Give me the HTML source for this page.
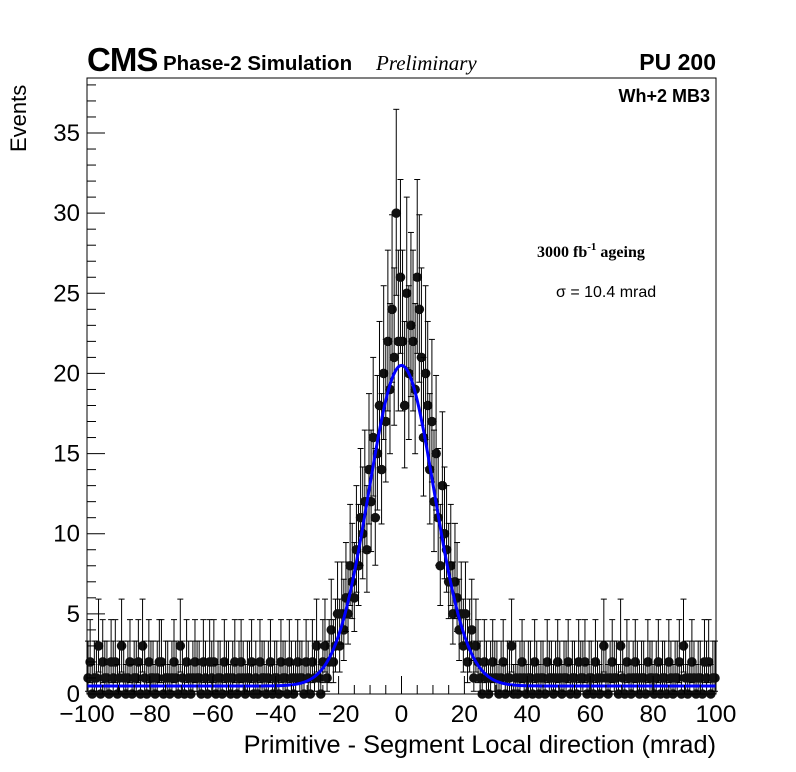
<!DOCTYPE html>
<html><head><meta charset="utf-8"><style>
html,body{margin:0;padding:0;background:#fff;}
svg{display:block;}
</style></head><body>
<svg id="chart" width="796" height="772" viewBox="0 0 796 772" xmlns="http://www.w3.org/2000/svg">
<rect x="0" y="0" width="796" height="772" fill="#fff"/>
<g id="marks"></g>
<path id="fit" fill="none" stroke="#0000ff" stroke-width="3"/>
<rect x="87" y="78" width="629" height="616" fill="none" stroke="#000" stroke-width="1"/>
<g id="axes"></g>
<text x="87" y="71" font-family="Liberation Sans, sans-serif" font-weight="bold" font-size="33" letter-spacing="-1">CMS</text>
<text x="163" y="70" font-family="Liberation Sans, sans-serif" font-weight="bold" font-size="20.5">Phase-2 Simulation</text>
<text x="376" y="70" font-family="Liberation Serif, serif" font-style="italic" font-size="21">Preliminary</text>
<text x="716" y="70" text-anchor="end" font-family="Liberation Sans, sans-serif" font-weight="bold" font-size="23">PU 200</text>
<text x="710" y="102" text-anchor="end" font-family="Liberation Sans, sans-serif" font-weight="bold" font-size="18">Wh+2 MB3</text>
<text x="537" y="257" font-family="Liberation Serif, serif" font-weight="bold" font-size="16">3000 fb<tspan dy="-7" font-size="11">-1</tspan><tspan dy="7"> ageing</tspan></text>
<text x="556" y="297" font-family="Liberation Sans, sans-serif" font-size="16">σ = 10.4 mrad</text>
<text x="716" y="753" text-anchor="end" font-family="Liberation Sans, sans-serif" font-size="25.3">Primitive - Segment Local direction (mrad)</text>
<text transform="translate(26,152) rotate(-90)" font-family="Liberation Sans, sans-serif" font-size="22">Events</text>
</svg>
<script>
const tailLeft = [1,2,0,1,1,3,0,2,1,1,0,2,1,2,0,1,3,1,0,1,2,0,1,1,2,0,3,1,0,2,
1,1,0,1,2,2,0,1,1,0,1,2,1,0,3,1,0,2,1,0,1,2,1,1,0,2,1,0,2,1,
2,0,1,1,0,2,1,1,0,1,2,0,1,2,1,0,1,1,2,0,1,0,2,1,1,0,1,2,0,1,
1,0,2,1,1,0,2,1,0,1,2,1,1,0,2];
const center = [1,0,2,1,3,1,0,2,3,1,2,4,2,3,5,
3,5,4,6,5,8,7,6,9,8,11,10,12,9,14,
12,16,11,15,18,14,20,17,22,19,24,21,30,22,26,
22,18,25,20,23,22,19,26,24,21,16,20,18,14,17,
12,15,11,8,13,10,9,7,8,5,7,6,4,5,3,
5,2,3,4,1,3,2,1,0,2,1,0,1,2,1];
const tailRight = [1,0,1,2,0,1,1,3,0,1,0,1,2,1,0,1,1,0,2,1,0,1,1,0,2,1,1,0,1,2,
1,0,1,1,2,0,1,1,0,2,1,1,2,0,1,1,0,2,1,0,1,3,1,0,1,2,1,1,0,3,
1,0,2,1,0,1,2,1,0,1,1,0,2,1,1,0,1,2,0,1,1,0,2,1,0,1,1,2,0,3,
1,0,1,2,1,0,1,1,0,2,1,2,0,1,1];
const xTicks = [-100,-80,-60,-40,-20,0,20,40,60,80,100];
const xTickLabels = ["\u2212100","\u221280","\u221260","\u221240","\u221220","0","20","40","60","80","100"];
const yTicks = [0,5,10,15,20,25,30,35];
const fitAmp = [20.0];
const fitMean = [0.0];
const fitSigma = [10.4];
const fitConst = [0.5];

const counts = tailLeft.concat(center, tailRight);
const X0=87,X1=716,Y0=694,YT=78;
const xs = v => X0 + (v+100)/200*(X1-X0);
const ys = v => Y0 - v*(Y0-133)/35;
const NS="http://www.w3.org/2000/svg";
function mk(tag, attrs, parent){const e=document.createElementNS(NS,tag);for(const k in attrs)e.setAttribute(k,attrs[k]);parent.appendChild(e);return e;}
const up=[1.84,3.30,4.64,5.92,7.16];
const lo=[0,0.17,0.71,1.37,2.09];
function upper(n){return n<up.length?up[n]:n+Math.sqrt(n)+1;}
function lower(n){return n<lo.length?lo[n]:n-Math.sqrt(n)+0.35;}
const marks=document.getElementById('marks');
const bw=200/counts.length;
counts.forEach((n,i)=>{
  const cx=xs(-100+bw*(i+0.5));
  const g=mk('g',{},marks);
  
  
  const yu=Math.max(ys(upper(n)),YT), yl=ys(lower(n));
  mk('line',{x1:cx,x2:cx,y1:yu,y2:yl,stroke:'#000','stroke-width':1},g);
  mk('line',{x1:cx-3,x2:cx+3,y1:yu,y2:yu,stroke:'#000','stroke-width':1},g);
  if(n>0) mk('line',{x1:cx-3,x2:cx+3,y1:yl,y2:yl,stroke:'#000','stroke-width':1},g);
  mk('circle',{cx:cx,cy:ys(n),r:4.8,fill:'#111'},g);
});
let d='';
for(let x=-100;x<=100;x+=0.5){
  const v=fitConst[0]+fitAmp[0]*Math.exp(-0.5*Math.pow((x-fitMean[0])/fitSigma[0],2));
  d+=(d?'L':'M')+xs(x).toFixed(2)+','+ys(v).toFixed(2);
}
document.getElementById('fit').setAttribute('d',d);
const axes=document.getElementById('axes');
for(let v=-100;v<=100;v+=5){
  const major=(v%20===0);
  const t=mk('line',{x1:xs(v),x2:xs(v),y1:Y0,y2:Y0-(major?18:9),stroke:'#000','stroke-width':1},axes);
  
  
}
xTicks.forEach((v,i)=>{
  const t=mk('text',{x:xs(v),y:722,'text-anchor':'middle','font-family':'Liberation Sans, sans-serif','font-size':24.5},axes);
  t.textContent=xTickLabels[i];
  
  
});
for(let v=0;v<=38;v+=1){
  const major=(v%5===0);
  const t=mk('line',{x1:X0,x2:X0+(major?18:9),y1:ys(v),y2:ys(v),stroke:'#000','stroke-width':1},axes);
  
  
}
yTicks.forEach(v=>{
  const t=mk('text',{x:80,y:ys(v)+8,'text-anchor':'end','font-family':'Liberation Sans, sans-serif','font-size':24},axes);
  t.textContent=String(v);
  
  
});
</script>
</body></html>
